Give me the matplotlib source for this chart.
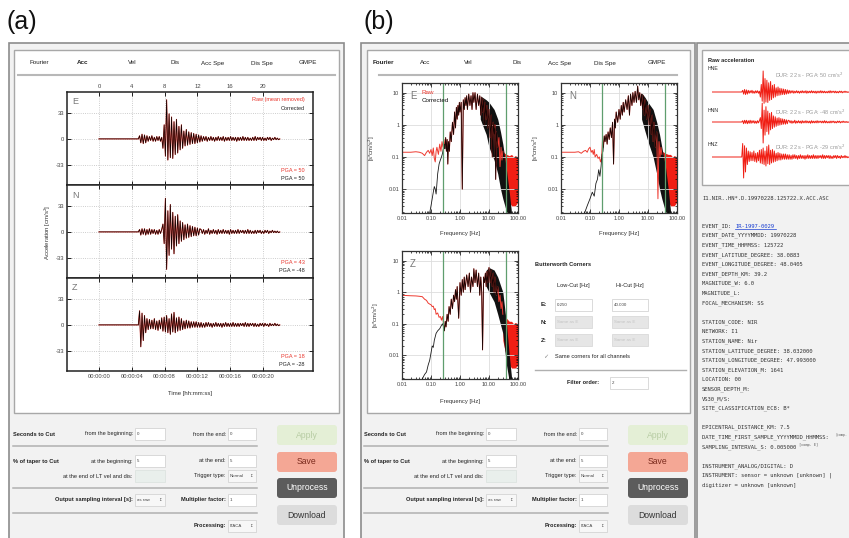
import numpy as np
import matplotlib.pyplot as plt
from matplotlib.patches import Rectangle, FancyBboxPatch
from matplotlib.ticker import NullFormatter

plt.rcParams['font.family'] = ['Liberation Sans', 'DejaVu Sans']

# ---------------- data ----------------
# acceleration records [cm/s^2], one value every 0.15 s from 4.8 s on (flat before)
t_start = 4.8
dt = 0.15
acc_e = [0, 4, -5, 6, -6, 5, -5, 4,
         -3, 3, -2, 4, -3, 2, -3, 3, -2, 3, -3, 2,
         -12, 18, -22, 50,
         -27, 32, -24, 28, -25, 22, -20, 25, -18, 16, -14, 18,
         -12, 10, -9, 12, -8, 9, -7, 8, -6, 7, -6, 6, -5, 5, -4,
         4, -3, 3, -2, 3, -3, 2, -2, 3, -2, 2, -3, 2, -2, 3, -2, 2, -2, 3, -3,
         2, -2, 2, -2, 3, -2, 2, -2, 2, -3, 2, -2, 2, -2, 3, -2, 2, -2, 2, -2,
         1, -2, 2, -2, 3, -2, 2, -1, 2, -2, 2, -2, 1, -2, 2, -1, 2, -2, 1, -1,
         2, -1, 1, -1, 0]
acc_n = [0, 3, -4, 4, -3, 4, -4, 3, -3, 4, -3, 3, -2, 3, -3, 2, -3, 3, -2, 3,
         10, -15, 43, -48,
         27, -30, 35, -22, 25, -28, 20, -18, 22, -15, 14, -12,
         12, -10, 9, -8, 10, -7, 8, -6, 7, -5, 6, -5, 5, -4, 4,
         3, -2, 3, -3, 2, -2, 4, -3, 2, -2, 3, -2, 2, -3, 3, -2, 2, -2, 3, -2,
         2, -2, 2, -3, 3, -2, 2, -2, 2, -2, 3, -2, 2, -1, 2, -2, 2, -2, 3, -2,
         2, -2, 1, -2, 2, -2, 2, -1, 2, -2, 1, -2, 2, -1, 2, -2, 1, -1, 2, -1,
         1, -1, 1, -1, 0]
acc_z = [0, 18, -28, 15, -20, 12, -10, 8,
         -6, 7, -5, 6, -5, 8, -6, 5, -7, 6, -5, 9,
         -8, 10, -9, 12,
         -10, 8, -12, 14, -9, 16, -10, 9, -8, 10, -7, 8,
         -6, 5, -5, 6, -4, 5, -4, 4, -3, 4, -3, 4, -3, 3, -3,
         3, -3, 2, -3, 3, -2, 3, -2, 2, -3, 2, -2, 3, -2, 2, -2, 2, -3, 2, -2,
         3, -2, 2, -2, 2, -2, 3, -2, 2, -2, 2, -2, 2, -1, 2, -2, 3, -2, 2, -2,
         2, -1, 2, -2, 2, -2, 1, -2, 2, -1, 2, -2, 2, -1, 1, -2, 2, -1, 1, -1,
         2, -1, 1, -1, 0]
components = ['E', 'N', 'Z']
pga_raw = ['PGA = 50', 'PGA = 43', 'PGA = 18']
pga_cor = ['PGA = 50', 'PGA = -48', 'PGA = -28']
time_ticks = [0, 4, 8, 12, 16, 20]
time_labels = ['00:00:00', '00:00:04', '00:00:08', '00:00:12', '00:00:16', '00:00:20']
amp_ticks = [-33, 0, 33]
raw_names = ['HNE', 'HNN', 'HNZ']
dur_labels = ['DUR: 22 s - PGA: 50 cm/s$^2$', 'DUR: 22 s - PGA: -48 cm/s$^2$',
              'DUR: 22 s - PGA: -29 cm/s$^2$']

# Fourier amplitude spectra [s*cm/s^2]
e_f = [0.01, 0.015, 0.02, 0.03, 0.04, 0.05, 0.06, 0.07, 0.08, 0.09,
       0.10, 0.11, 0.12, 0.13, 0.14, 0.15, 0.16, 0.18, 0.20, 0.22,
       0.24, 0.26, 0.28, 0.30, 0.32, 0.34, 0.36, 0.38, 0.40, 0.43,
       0.46, 0.50, 0.55, 0.60, 0.65, 0.70, 0.75, 0.80, 0.85, 0.90,
       0.95, 1.0, 1.1, 1.2, 1.3, 1.4, 1.5, 1.6, 1.7, 1.8,
       2.0, 2.2, 2.4, 2.6, 2.8, 3.0, 3.3, 3.6, 4.0, 4.4,
       4.8, 5.2, 5.6, 6.0, 6.5, 7.0, 7.5, 8.0, 8.5, 9.0,
       10, 11, 12, 13, 14, 15, 16, 17, 18, 20,
       22, 24, 26, 28, 30]
e_a = [0.14, 0.14, 0.14, 0.145, 0.14, 0.13, 0.11, 0.14, 0.16, 0.13,
       0.17, 0.11, 0.19, 0.09, 0.07, 0.15, 0.2, 0.12, 0.25, 0.15,
       0.3, 0.2, 0.35, 0.18, 0.4, 0.15, 0.35, 0.06, 0.3, 0.15,
       0.6, 0.3, 1.2, 0.5, 2.5, 0.8, 3.5, 1.5, 4, 2,
       5, 2.5, 5, 0.01, 6, 3, 7, 4, 8, 3,
       9, 4, 8, 3, 10, 5, 10, 3, 9, 4,
       8, 2, 7, 2.5, 6, 1, 5, 1.5, 4, 0.8,
       3, 0.4, 2, 0.1, 1.2, 0.5, 1, 0.02, 0.6, 0.2,
       0.4, 0.05, 0.2, 0.08, 0.15]
e_tail_f = [0.09, 0.10, 0.11, 0.12, 0.13, 0.14, 0.15, 0.17, 0.19, 0.21, 0.23, 0.25, 0.27, 0.29]
e_tail_a = [0.0018, 0.003, 0.005, 0.008, 0.012, 0.01, 0.007, 0.03, 0.06, 0.08, 0.1, 0.13, 0.2, 0.25]

n_f = [0.01, 0.02, 0.03, 0.04, 0.05, 0.06, 0.07, 0.08, 0.09, 0.10,
       0.11, 0.12, 0.13, 0.14, 0.15, 0.17, 0.19, 0.21, 0.23, 0.25,
       0.27, 0.29, 0.31, 0.33, 0.36, 0.39, 0.42, 0.46, 0.50, 0.55,
       0.60, 0.65, 0.70, 0.75, 0.80, 0.90, 1.0, 1.1, 1.2, 1.3,
       1.4, 1.5, 1.7, 1.9, 2.1, 2.3, 2.5, 2.8, 3.0, 3.3,
       3.6, 4.0, 4.4, 4.8, 5.2, 5.6, 6.0, 6.5, 7.0, 7.5,
       8, 9, 10, 11, 12, 13, 14, 15, 16, 18,
       20, 22, 24, 26, 28, 30]
n_a = [0.14, 0.14, 0.14, 0.145, 0.13, 0.15, 0.16, 0.14, 0.18, 0.2,
       0.14, 0.16, 0.12, 0.17, 0.1, 0.12, 0.09, 0.1, 0.07, 0.09,
       0.35, 0.2, 0.45, 0.3, 0.5, 0.25, 0.6, 0.35, 0.8, 0.4,
       1.2, 0.06, 1.5, 0.8, 2.5, 1.2, 3, 1.5, 4, 2,
       5, 2.5, 6, 3, 8, 2, 9, 4, 10, 5,
       11, 5, 16, 6, 10, 4, 9, 3, 8, 2,
       6, 1.5, 4, 1, 3, 0.5, 2, 0.3, 1.2, 0.2,
       0.6, 0.005, 0.3, 0.1, 0.2, 0.12]
n_tail_f = [0.065, 0.08, 0.10, 0.12, 0.14, 0.16, 0.18, 0.20, 0.22, 0.24, 0.26, 0.28]
n_tail_a = [0.0018, 0.003, 0.005, 0.008, 0.006, 0.015, 0.02, 0.04, 0.025, 0.05, 0.12, 0.15]

z_f = [0.01, 0.015, 0.02, 0.03, 0.04, 0.05, 0.06, 0.07, 0.08, 0.09,
       0.10, 0.11, 0.12, 0.13, 0.14, 0.15, 0.17, 0.19, 0.21, 0.23,
       0.25, 0.27, 0.29, 0.31, 0.33, 0.36, 0.39, 0.42, 0.46, 0.50,
       0.55, 0.60, 0.65, 0.70, 0.75, 0.80, 0.90, 1.0, 1.1, 1.2,
       1.3, 1.4, 1.5, 1.7, 1.9, 2.1, 2.3, 2.5, 2.8, 3.0,
       3.3, 3.6, 4.0, 4.4, 4.8, 5.2, 5.6, 6.0, 6.5, 7.0,
       7.5, 8, 8.5, 9, 10, 11, 12, 13, 14, 15,
       16, 18, 20, 22, 24, 26, 28, 30]
z_a = [0.8, 0.78, 0.77, 0.76, 0.74, 0.72, 0.6, 0.55, 0.45, 0.42,
       0.4, 0.35, 0.36, 0.28, 0.3, 0.2, 0.22, 0.16, 0.17, 0.13,
       0.17, 0.1, 0.06, 0.12, 0.08, 0.2, 0.12, 0.35, 0.2, 0.6,
       0.3, 0.8, 0.5, 1.2, 0.6, 1.5, 0.15, 2, 0.8, 2.5,
       1, 3, 1.2, 3.5, 1.5, 4, 1, 3, 1.5, 5.5,
       2, 5, 1.5, 4, 0.8, 3, 1, 0.015, 3, 2,
       4, 1.5, 4.5, 2, 6, 2, 5, 1.5, 4, 1,
       3, 0.8, 1.5, 0.5, 0.8, 0.3, 0.5, 0.2]
z_tail_f = [0.05, 0.06, 0.07, 0.08, 0.09, 0.10, 0.11, 0.12, 0.13, 0.15, 0.17, 0.20, 0.23, 0.25, 0.27]
z_tail_a = [0.0018, 0.0025, 0.003, 0.005, 0.007, 0.012, 0.02, 0.018, 0.03, 0.05, 0.06, 0.07, 0.09, 0.1, 0.08]

# dense high-frequency parts: (freq, lower, upper)
e_black_band = ([5, 8, 10, 15, 20, 25, 30, 40, 50, 60],
                [1.5, 0.5, 0.2, 0.08, 0.03, 0.01, 0.005, 0.002, 0.0015, 0.0015],
                [8, 6, 5, 3, 1.5, 0.6, 0.25, 0.04, 0.008, 0.0018])
e_red_band = ([25, 30, 35, 40, 50, 60, 70, 80, 100],
              [0.05, 0.02, 0.01, 0.006, 0.004, 0.003, 0.003, 0.003, 0.004],
              [0.3, 0.15, 0.13, 0.12, 0.11, 0.12, 0.1, 0.11, 0.1])
n_black_band = ([6, 8, 10, 15, 20, 25, 30, 40, 50, 60],
                [1.5, 0.6, 0.3, 0.1, 0.03, 0.01, 0.005, 0.002, 0.0015, 0.0015],
                [10, 7, 5, 3, 1.2, 0.5, 0.2, 0.05, 0.01, 0.002])
n_red_band = ([25, 30, 35, 40, 50, 60, 70, 80, 100],
              [0.05, 0.02, 0.01, 0.006, 0.004, 0.003, 0.003, 0.003, 0.004],
              [0.3, 0.15, 0.14, 0.13, 0.12, 0.12, 0.1, 0.11, 0.1])
z_black_band = ([8, 10, 15, 20, 30, 40, 50, 60],
                [1.5, 1, 0.5, 0.2, 0.05, 0.005, 0.0015, 0.0015],
                [5, 6, 5, 3, 1, 0.1, 0.01, 0.002])
z_red_band = ([30, 35, 40, 50, 60, 70, 80, 100],
              [0.03, 0.015, 0.01, 0.005, 0.004, 0.004, 0.004, 0.005],
              [0.3, 0.2, 0.15, 0.12, 0.12, 0.1, 0.11, 0.1])
corners = [0.25, 40]
freq_ticks = [0.01, 0.1, 1, 10, 100]
freq_labels = ['0.01', '0.10', '1.00', '10.00', '100.00']
spec_ticks = [0.01, 0.1, 1, 10]
spec_labels = ['0.01', '0.1', '1', '10']

tabs = ['Fourier', 'Acc', 'Vel', 'Dis', 'Acc Spe', 'Dis Spe', 'GMPE']

meta_lines = ['EVENT_ID: ', 'EVENT_DATE_YYYYMMDD: 19970228', 'EVENT_TIME_HHMMSS: 125722',
              'EVENT_LATITUDE_DEGREE: 38.0883', 'EVENT_LONGITUDE_DEGREE: 48.0405',
              'EVENT_DEPTH_KM: 39.2', 'MAGNITUDE_W: 6.0', 'MAGNITUDE_L:', 'FOCAL_MECHANISM: SS', '',
              'STATION_CODE: NIR', 'NETWORK: I1', 'STATION_NAME: Nir',
              'STATION_LATITUDE_DEGREE: 38.032000', 'STATION_LONGITUDE_DEGREE: 47.993000',
              'STATION_ELEVATION_M: 1641', 'LOCATION: 00', 'SENSOR_DEPTH_M:', 'VS30_M/S:',
              'SITE_CLASSIFICATION_EC8: B*', '', 'EPICENTRAL_DISTANCE_KM: 7.5',
              'DATE_TIME_FIRST_SAMPLE_YYYYMMDD_HHMMSS: ', 'SAMPLING_INTERVAL_S: 0.005000', '',
              'INSTRUMENT_ANALOG/DIGITAL: D', 'INSTRUMENT: sensor = unknown [unknown] |',
              'digitizer = unknown [unknown]']

# ---------------- figure ----------------
W, H = 849, 538
fig = plt.figure(figsize=(W / 100, H / 100), dpi=100)
ui = fig.add_axes([0, 0, 1, 1])
ui.set_xlim(0, W)
ui.set_ylim(H, 0)
ui.axis('off')


def px(x, y, w, h):
    return [x / W, 1 - (y + h) / H, w / W, h / H]


def rect(x, y, w, h, fc='white', ec='#a8a8a8', lw=0.8):
    ui.add_patch(Rectangle((x, y), w, h, fc=fc, ec=ec, lw=lw))


def label(x, y, s, size=4.1, ha='left', weight='normal', color='#222222', **kw):
    ui.text(x, y, s, fontsize=size, ha=ha, va='center', fontweight=weight, color=color, **kw)


def field(x, y, w, s, fc='white', color='#444444', ec='#d4d4d4', arrow=False):
    rect(x, y - 6, w, 12, fc=fc, ec=ec, lw=0.6)
    label(x + 2, y, s, size=3.2, color=color)
    if arrow:
        label(x + w - 3, y, '\u2195', size=3.2, ha='right', color='#555555', family='DejaVu Sans')


def button(x, y, s, fc, color):
    ui.add_patch(FancyBboxPatch((x, y), 60, 20, boxstyle='round,pad=0,rounding_size=3',
                                fc=fc, ec='none'))
    label(x + 30, y + 10, s, size=6.2, ha='center', color=color)


# frames
rect(9, 43, 335, 505, fc='#f2f2f2', ec='#8c8c8c', lw=1.2)
rect(14, 50, 325, 363, fc='white', ec='#a8a8a8', lw=1.0)
rect(361, 43, 334, 505, fc='#f2f2f2', ec='#8c8c8c', lw=1.2)
rect(367, 50, 323, 363, fc='white', ec='#a8a8a8', lw=1.0)
rect(697, 43, 160, 505, fc='#f2f2f2', ec='#8c8c8c', lw=1.2)
rect(702, 50, 160, 135, fc='white', ec='#a8a8a8', lw=1.0)

ui.text(7, 22, '(a)', fontsize=18, va='center', ha='left', color='#111111')
ui.text(364, 22, '(b)', fontsize=18, va='center', ha='left', color='#111111')

# tab bars
tab_x_a = [39, 83, 132, 175, 213, 262, 308]
tab_x_b = [383, 425, 468, 517, 560, 605, 657]
for name, xa, xb in zip(tabs, tab_x_a, tab_x_b):
    label(xa, 63, name, size=4.5, ha='center', weight='bold' if name == 'Acc' else 'normal')
    label(xb, 63, name, size=4.5, ha='center', weight='bold' if name == 'Fourier' else 'normal')
ui.plot([18, 335], [75, 75], color='#b8b8b8', lw=1.5)
ui.plot([379, 677], [75, 75], color='#b8b8b8', lw=1.5)


def controls(dx):
    label(13 + dx, 434, 'Seconds to Cut', weight='bold')
    label(133 + dx, 434, 'from the beginning:', ha='right')
    field(135 + dx, 434, 30, '0')
    label(226 + dx, 434, 'from the end:', ha='right')
    field(228 + dx, 434, 28, '0')
    ui.plot([13 + dx, 257 + dx], [446, 446], color='#b0b0b0', lw=1.1)
    label(13 + dx, 461, '% of taper to Cut', weight='bold')
    label(133 + dx, 461, 'at the beginning:', ha='right')
    field(135 + dx, 461, 30, '5')
    label(226 + dx, 461, 'at the end:', ha='right')
    field(228 + dx, 461, 28, '5')
    label(133 + dx, 476, 'at the end of LT vel and dis:', ha='right')
    field(135 + dx, 476, 30, '', fc='#e9efec', ec='#dde3e0')
    label(226 + dx, 476, 'Trigger type:', ha='right')
    field(228 + dx, 476, 28, 'Normal', fc='#f7f7f7', arrow=True)
    ui.plot([13 + dx, 257 + dx], [488, 488], color='#b0b0b0', lw=1.1)
    label(133 + dx, 500, 'Output sampling interval [s]:', ha='right', weight='bold')
    field(135 + dx, 500, 30, 'as raw', fc='#f7f7f7', arrow=True)
    label(226 + dx, 500, 'Multiplier factor:', ha='right', weight='bold')
    field(228 + dx, 500, 28, '1')
    ui.plot([13 + dx, 257 + dx], [513, 513], color='#b0b0b0', lw=1.1)
    label(226 + dx, 526, 'Processing:', ha='right', weight='bold')
    field(228 + dx, 526, 28, 'ITACA', fc='#f7f7f7', arrow=True)
    button(277 + dx, 425, 'Apply', '#e4efd6', '#b7cca3')
    button(277 + dx, 452, 'Save', '#f4a795', '#7a2a1c')
    button(277 + dx, 478, 'Unprocess', '#5c5c5c', 'white')
    button(277 + dx, 505, 'Download', '#dcdcdc', '#333333')


controls(0)
controls(351)

# ---------------- acceleration time histories ----------------
records = [acc_e, acc_n, acc_z]
for i, (comp, vals) in enumerate(zip(components, records)):
    y0 = 92 + i * 93
    ax = fig.add_axes(px(67, y0, 246, 93))
    t = np.concatenate([[0.0], t_start + dt * np.arange(len(vals))])
    v = np.concatenate([[0.0], vals])
    ax.plot(t, v, color='#e8342b', lw=0.75)
    ax.plot(t, v, color='black', lw=0.5, alpha=0.95)
    ax.set_xlim(-3.9, 26.1)
    ax.set_ylim(-59, 60)
    ax.set_xticks(time_ticks)
    ax.set_yticks(amp_ticks)
    ax.set_yticklabels([str(a) for a in amp_ticks])
    ax.grid(True, ls=':', color='#bdbdbd', lw=0.6)
    ax.tick_params(direction='in', length=3, width=0.6, labelsize=4.2, top=True, right=True,
                   pad=2, labelcolor='#444444')
    if i == 0:
        ax.tick_params(labeltop=True, labelbottom=False)
        ax.set_xticklabels([str(t) for t in time_ticks])
    elif i == 2:
        ax.set_xticklabels(time_labels)
    else:
        ax.tick_params(labelbottom=False)
    for s in ax.spines.values():
        s.set_linewidth(1.1)
        s.set_color('#222222')
    ax.text(72, y0 + 10, comp, transform=ui.transData, fontsize=6.5, color='#777777', va='center')
    ax.text(305, y0 + 78, pga_raw[i], transform=ui.transData, fontsize=4, color='#e8342b',
            ha='right', va='center')
    ax.text(305, y0 + 86, pga_cor[i], transform=ui.transData, fontsize=4, color='#222222',
            ha='right', va='center')
    if i == 0:
        ax.text(305, 100, 'Raw (mean removed)', transform=ui.transData, fontsize=4,
                color='#e8342b', ha='right', va='center')
        ax.text(305, 108, 'Corrected', transform=ui.transData, fontsize=4,
                color='#222222', ha='right', va='center')

label(190, 393, 'Time [hh:mm:ss]', size=4.3, ha='center', color='#333333')
label(48, 232, 'Acceleration [cm/s$^2$]', size=4.3, ha='center', color='#333333', rotation=90)

# ---------------- Fourier spectra ----------------
spectra = [
    ('E', 402, 83, 130, e_f, e_a, e_tail_f, e_tail_a, e_black_band, e_red_band, 372, 234),
    ('N', 561, 83, 130, n_f, n_a, n_tail_f, n_tail_a, n_black_band, n_red_band, 536, 234),
    ('Z', 402, 251, 128, z_f, z_a, z_tail_f, z_tail_a, z_black_band, z_red_band, 376, 402),
]
for comp, x0, y0, h, f, a, tf, ta, kband, rband, ylab_x, xlab_y in spectra:
    ax = fig.add_axes(px(x0, y0, 116, h))
    ax.set_xscale('log')
    ax.set_yscale('log')
    f = np.array(f)
    a = np.array(a)
    keep = (f >= tf[-1]) & (f <= 20)
    ax.fill_between(rband[0], rband[1], rband[2], color='#f01e14', lw=0)
    ax.plot(f, a, color='#ee3a30', lw=0.7)
    ax.plot(np.concatenate([tf, f[keep]]), np.concatenate([ta, a[keep]]),
            color='black', lw=0.6, alpha=0.9)
    ax.fill_between(kband[0], kband[1], kband[2], color='#111111', lw=0)
    for c in corners:
        ax.axvline(c, color='#5f9e6e', lw=0.9)
    ax.set_xlim(0.01, 100)
    ax.set_ylim(0.0018, 20)
    ax.set_xticks(freq_ticks)
    ax.set_xticklabels(freq_labels)
    ax.set_yticks(spec_ticks)
    ax.set_yticklabels(spec_labels)
    ax.xaxis.set_minor_formatter(NullFormatter())
    ax.yaxis.set_minor_formatter(NullFormatter())
    ax.grid(True, which='major', color='#dddddd', lw=0.6)
    ax.tick_params(which='both', direction='in', top=True, right=True, labelsize=4,
                   pad=2, width=0.5, labelcolor='#444444')
    ax.tick_params(which='major', length=3)
    ax.tick_params(which='minor', length=1.5)
    for s in ax.spines.values():
        s.set_linewidth(0.9)
        s.set_color('#333333')
    ax.text(x0 + 8, y0 + 13, comp, transform=ui.transData, fontsize=7, color='#777777',
            va='center')
    if comp == 'E':
        ax.text(422, 93, 'Raw', transform=ui.transData, fontsize=4.5, color='#e8342b',
                va='center')
        ax.text(422, 100.5, 'Corrected', transform=ui.transData, fontsize=4.5, color='#111111',
                va='center')
    label(ylab_x, y0 + h / 2, '[s*cm/s$^2$]', size=4.2, ha='center', rotation=90,
          color='#333333')
    label(x0 + 58, xlab_y, 'Frequency [Hz]', size=4.2, ha='center', color='#333333')

# Butterworth corners box
label(535, 265, 'Butterworth Corners', weight='bold')
label(573, 286, 'Low-Cut [Hz]', ha='center')
label(630, 286, 'Hi-Cut [Hz]', ha='center')
label(541, 305, 'E:', weight='bold', size=4.5)
field(555, 305, 37, '0.250')
field(612, 305, 36, '40.000')
for yy, c in [(322, 'N:'), (340, 'Z:')]:
    label(541, yy, c, weight='bold', size=4.5)
    field(555, yy, 37, 'Same as E', fc='#e6e6e6', ec='#dadada', color='#c4c4c4')
    field(612, yy, 36, 'Same as E', fc='#e6e6e6', ec='#dadada', color='#c4c4c4')
label(543, 357, '\u2713', size=4.5, color='#888888', family='DejaVu Sans')
label(555, 357, 'Same corners for all channels')
ui.plot([535, 686], [370, 370], color='#b0b0b0', lw=1.0)
label(583, 383, 'Filter order:', weight='bold', ha='center')
field(610, 383, 38, '2')

# ---------------- raw acceleration preview ----------------
label(708, 61, 'Raw acceleration', weight='bold')
rax = fig.add_axes(px(712, 55, 137, 128))
rax.set_xlim(0, 137 / 6.2)
rax.set_ylim(128, 0)
rax.axis('off')
for i, (vals, name, dur, base) in enumerate(zip(records, raw_names, dur_labels, [37, 67, 102])):
    t = np.concatenate([[0.0], t_start + dt * np.arange(len(vals))])
    v = np.concatenate([[0.0], vals])
    rax.plot(t, base - v / np.max(np.abs(v)) * 21, color='#f01e14', lw=0.7)
    label(708, 69 + [0, 42, 75][i], name, size=3.8, color='#333333')
    label(775, 75 + [0, 37, 72][i], dur, size=4, color='#9a9a9a')

# ---------------- metadata text ----------------
mono = 'DejaVu Sans Mono'
cw = 4.0 * 100 / 72 * 0.602
ui.text(702, 198, 'I1.NIR..HN*.D.19970228.125722.X.ACC.ASC', fontsize=4, family=mono,
        color='#333333', va='center')
for k, line in enumerate(meta_lines):
    yy = 226 + 9.6 * k
    ui.text(702, yy, line, fontsize=4, family=mono, color='#333333', va='center')
    if line.startswith('EVENT_ID'):
        x1 = 702 + cw * len(line)
        ui.text(x1, yy, 'IR-1997-0029', fontsize=4, family=mono, color='#1a3fd1', va='center')
        ui.plot([x1, x1 + cw * 12], [yy + 3, yy + 3], color='#1a3fd1', lw=0.5)
    if line.startswith('DATE_TIME'):
        ui.text(702 + cw * len(line) - 1, yy - 2, '[comp.', fontsize=2.3, family=mono,
                color='#555555', va='center')
    if line.startswith('SAMPLING'):
        ui.text(702 + cw * len(line), yy - 2, '[comp. E]', fontsize=2.6, family=mono,
                color='#555555', va='center')

fig.savefig('out.png', dpi=100)
